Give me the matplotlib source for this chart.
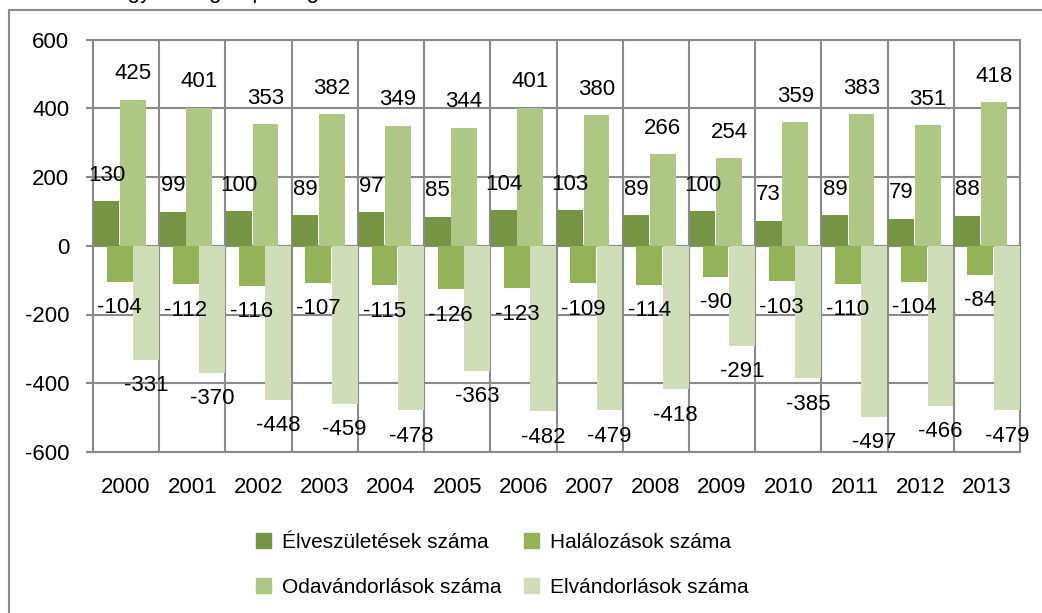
import numpy as np
import matplotlib
matplotlib.use("Agg")
import matplotlib.pyplot as plt
from matplotlib.lines import Line2D
from matplotlib.patches import Patch

plt.rcParams['font.family'] = ['Liberation Sans', 'DejaVu Sans']
plt.rcParams['axes.unicode_minus'] = False

# adatok
years = ['2000', '2001', '2002', '2003', '2004', '2005', '2006',
         '2007', '2008', '2009', '2010', '2011', '2012', '2013']
births = [130, 99, 100, 89, 97, 85, 104, 103, 89, 100, 73, 89, 79, 88]
deaths = [-104, -112, -116, -107, -115, -126, -123, -109, -114, -90, -103, -110, -104, -84]
in_mig = [425, 401, 353, 382, 349, 344, 401, 380, 266, 254, 359, 383, 351, 418]
out_mig = [-331, -370, -448, -459, -478, -363, -482, -479, -418, -291, -385, -497, -466, -479]

labels = ['Élveszületések száma', 'Halálozások száma',
          'Odavándorlások száma', 'Elvándorlások száma']
colors = ['#779344', '#94b258', '#aec785', '#cfddb9']
series = [births, deaths, in_mig, out_mig]
offsets = [-0.295, -0.098, 0.105, 0.30]
width = 0.39
grid_c = '#8a8a8a'
fs = 16

fig = plt.figure(figsize=(10.42, 6.13), dpi=100)
ax = fig.add_axes([93/1042, (613-452)/613, (1020-93)/1042, (452-39.5)/613])

x = np.arange(len(years))
for vals, off, col in zip(series, offsets, colors):
    bars = ax.bar(x + off, vals, width, color=col, zorder=3)
    for b, v in zip(bars, vals):
        dy = 26 if v > 0 else -26
        ax.annotate(str(v), (b.get_x() + b.get_width()/2, v), xytext=(0, dy),
                    textcoords='offset pixels', ha='center', va='center',
                    fontsize=fs, zorder=5)

ax.set_xlim(-0.5, len(years) - 0.5)
ax.set_ylim(-600, 600)
ax.set_yticks(range(-600, 601, 200))
ax.set_xticks(x)
ax.set_xticklabels(years)
ax.set_xticks(np.arange(-0.5, len(years), 1), minor=True)
ax.grid(which='minor', axis='x', color=grid_c, lw=1.5, zorder=1)
ax.grid(which='major', axis='y', color=grid_c, lw=1.5, zorder=1)
ax.axhline(0, color=grid_c, lw=1.5, zorder=2)
ax.tick_params(axis='x', which='both', length=0, labelsize=fs, pad=18)
ax.tick_params(axis='y', length=5, width=1.5, color=grid_c, labelsize=fs, pad=12)
for s in ax.spines.values():
    s.set_color(grid_c)
    s.set_linewidth(1.5)

handles = [Patch(color=colors[i]) for i in (0, 2, 1, 3)]
leg_labels = [labels[i] for i in (0, 2, 1, 3)]
fig.legend(handles, leg_labels, ncol=2, loc='center',
           bbox_to_anchor=(0.482, 0.079), frameon=False, fontsize=15,
           handlelength=0.72, handleheight=0.72, handletextpad=0.5,
           columnspacing=1.1, labelspacing=1.25)

# külső keret (jobb és alsó széle levágva)
fig.add_artist(Line2D([9/1042, 9/1042], [0, 1 - 10/613], color=grid_c, lw=1.5))
fig.add_artist(Line2D([9/1042, 1], [1 - 10/613, 1 - 10/613], color=grid_c, lw=1.5))
# levágott cím
fig.text(0.095, 1.013, 'Nagyközség népmozgalmi adatai', fontsize=fs, va='center')

fig.savefig('out.png', dpi=100)
